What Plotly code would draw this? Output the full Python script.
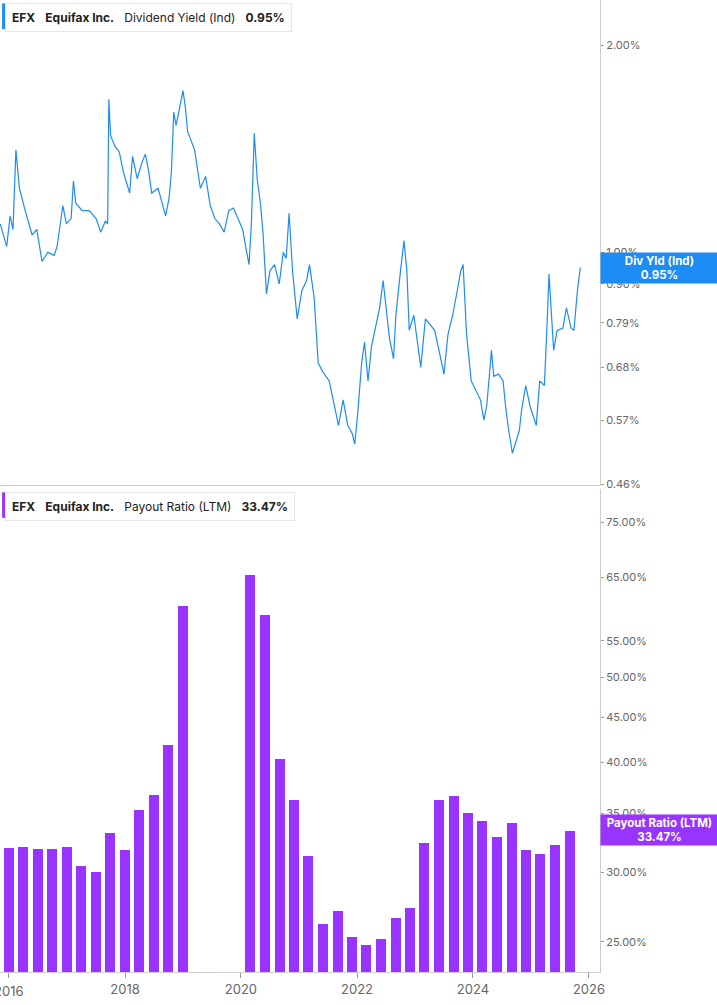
import numpy as np
import pandas as pd
import plotly.graph_objects as go
from plotly.subplots import make_subplots

# --- dividend yield (%), decimal years ---
yld_t = [2015.85, 2015.91, 2015.96, 2016.02, 2016.07, 2016.12, 2016.18, 2016.28, 2016.40, 2016.48,
         2016.57, 2016.67, 2016.78, 2016.83, 2016.87, 2016.93, 2016.99, 2017.07, 2017.11, 2017.15,
         2017.26, 2017.38, 2017.50, 2017.58, 2017.66, 2017.70, 2017.72, 2017.75, 2017.82, 2017.90,
         2017.97, 2018.08, 2018.13, 2018.21, 2018.29, 2018.35, 2018.41, 2018.46, 2018.57, 2018.62,
         2018.70, 2018.76, 2018.80, 2018.84, 2018.88, 2018.94, 2019.00, 2019.04, 2019.08, 2019.20,
         2019.30, 2019.39, 2019.47, 2019.55, 2019.63, 2019.71, 2019.79, 2019.87, 2019.95, 2020.03,
         2020.10, 2020.14, 2020.18, 2020.23, 2020.28, 2020.34, 2020.38, 2020.44, 2020.50, 2020.58,
         2020.66, 2020.73, 2020.78, 2020.83, 2020.89, 2020.97, 2021.05, 2021.13, 2021.18, 2021.26,
         2021.33, 2021.41, 2021.52, 2021.60, 2021.68, 2021.76, 2021.84, 2021.92, 2021.96, 2022.01,
         2022.08, 2022.13, 2022.19, 2022.25, 2022.31, 2022.39, 2022.45, 2022.51, 2022.56, 2022.63,
         2022.67, 2022.75, 2022.81, 2022.86, 2022.90, 2022.98, 2023.06, 2023.10, 2023.18, 2023.26,
         2023.34, 2023.43, 2023.50, 2023.57, 2023.65, 2023.73, 2023.79, 2023.83, 2023.89, 2023.97,
         2024.05, 2024.13, 2024.19, 2024.24, 2024.32, 2024.36, 2024.44, 2024.52, 2024.56, 2024.61,
         2024.68, 2024.74, 2024.80, 2024.84, 2024.91, 2024.99, 2025.09, 2025.15, 2025.23, 2025.27,
         2025.31, 2025.39, 2025.45, 2025.55, 2025.61, 2025.69, 2025.74, 2025.80, 2025.85]
yld_v = [1.10, 1.05, 1.02, 1.13, 1.08, 1.41, 1.24, 1.15, 1.06, 1.08,
         0.97, 1.00, 0.99, 1.02, 1.08, 1.17, 1.10, 1.12, 1.27, 1.18,
         1.15, 1.15, 1.12, 1.07, 1.11, 1.10, 1.67, 1.48, 1.43, 1.40,
         1.31, 1.22, 1.38, 1.28, 1.35, 1.39, 1.31, 1.22, 1.24, 1.20,
         1.13, 1.20, 1.31, 1.60, 1.53, 1.62, 1.72, 1.63, 1.50, 1.41,
         1.24, 1.29, 1.17, 1.12, 1.10, 1.07, 1.15, 1.16, 1.12, 1.08,
         1.00, 0.96, 1.10, 1.49, 1.28, 1.17, 1.07, 0.87, 0.94, 0.96,
         0.90, 1.00, 0.98, 1.14, 0.94, 0.80, 0.88, 0.91, 0.96, 0.86,
         0.69, 0.67, 0.65, 0.60, 0.56, 0.61, 0.56, 0.544, 0.526, 0.58,
         0.69, 0.74, 0.65, 0.73, 0.77, 0.83, 0.91, 0.82, 0.75, 0.70,
         0.81, 0.94, 1.04, 0.94, 0.77, 0.81, 0.72, 0.68, 0.80, 0.785,
         0.77, 0.71, 0.665, 0.76, 0.81, 0.88, 0.94, 0.96, 0.76, 0.65,
         0.63, 0.61, 0.57, 0.60, 0.72, 0.66, 0.665, 0.65, 0.60, 0.556,
         0.51, 0.53, 0.55, 0.59, 0.64, 0.595, 0.56, 0.65, 0.64, 0.76,
         0.93, 0.72, 0.77, 0.776, 0.83, 0.776, 0.77, 0.88, 0.95]

# --- payout ratio (LTM, %) quarterly ---
pay_dates = (list(pd.date_range("2015-12-31", "2018-12-31", freq="QE"))
             + list(pd.date_range("2020-03-01", "2025-09-01", freq="QS-MAR")))
pay_v = [32.0, 32.1, 31.9, 31.9, 32.1, 30.5, 30.0, 33.3, 31.8, 35.3, 36.7, 41.9, 60.3,
         65.3, 58.9, 40.4, 36.3, 31.3, 26.2, 27.1, 25.3, 24.8, 25.2, 26.6, 27.3, 32.4,
         36.3, 36.6, 35.0, 34.3, 32.9, 34.1, 31.8, 31.5, 32.2, 33.47]

yld_ticks = [0.46, 0.57, 0.68, 0.79, 0.90, 1.00, 2.00]
pay_ticks = [25, 30, 35, 40, 45, 50, 55, 65, 75]
year_ticks = list(range(2016, 2027, 2))


def dec_to_date(y):
    yr = int(y)
    start = pd.Timestamp(yr, 1, 1)
    return start + pd.Timedelta(days=(y - yr) * 365.25)


BLUE = "#1e8cf5"
PURPLE = "#9933ff"
GRID = "#cccccc"
FONT = "Inter"
TICKFONT = dict(family=FONT, size=13, color="#666")

fig = make_subplots(rows=2, cols=1, shared_xaxes=True, vertical_spacing=0.004,
                    row_heights=[0.501, 0.499])

fig.add_trace(go.Scatter(x=[dec_to_date(t) for t in yld_t], y=yld_v, mode="lines",
                         line=dict(color=BLUE, width=1.2), showlegend=False), row=1, col=1)
fig.add_trace(go.Bar(x=pay_dates, y=pay_v, marker=dict(color=PURPLE, line=dict(width=0)),
                     width=63 * 86400000, showlegend=False), row=2, col=1)

x_range = [dec_to_date(2015.845), dec_to_date(2026.19)]
common_x = dict(range=x_range, showgrid=False, zeroline=False, showline=True,
                linecolor=GRID, linewidth=1, automargin=False)
fig.update_xaxes(**common_x, showticklabels=False, ticks="", row=1, col=1)
fig.update_xaxes(**common_x, tickvals=[pd.Timestamp(y, 1, 1) for y in year_ticks],
                 ticktext=[str(y) for y in year_ticks], ticks="outside", ticklen=5,
                 tickcolor="#999", tickfont=TICKFONT, row=2, col=1)

# plotly drops the half-clipped first year label, so draw it as text
fig.add_annotation(xref="x2", yref="paper", x=pd.Timestamp(year_ticks[0], 1, 1), y=0,
                   yshift=-9, yanchor="top", text=str(year_ticks[0]), showarrow=False,
                   font=TICKFONT)

common_y = dict(type="log", side="right", showgrid=False, zeroline=False, showline=True,
                linecolor=GRID, ticks="outside", ticklen=3, tickcolor="#999", automargin=False,
                tickfont=dict(family=FONT, size=11, color="#666"))
fig.update_yaxes(**common_y, range=[np.log10(0.4585), np.log10(2.33)],
                 tickvals=yld_ticks, ticktext=[f"{v:.2f}%" for v in yld_ticks], row=1, col=1)
fig.update_yaxes(**common_y, range=[np.log10(23.1), np.log10(81.9)],
                 tickvals=pay_ticks, ticktext=[f"{v:.2f}%" for v in pay_ticks], row=2, col=1)

# header boxes
for yref, txt, col in [("y domain", "<b>EFX</b>   <b>Equifax Inc.</b>   Dividend Yield (Ind)   <b>0.95%</b>", BLUE),
                       ("y2 domain", "<b>EFX</b>   <b>Equifax Inc.</b>   Payout Ratio (LTM)   <b>33.47%</b>", PURPLE)]:
    fig.add_annotation(xref="paper", yref=yref, x=0.008, y=0.993, xanchor="left", yanchor="top",
                       text=txt, showarrow=False, align="left",
                       font=dict(family=FONT, size=12, color="#222"),
                       bgcolor="white", bordercolor="#e6e6e6", borderwidth=1, borderpad=6)
    fig.add_shape(type="line", xref="paper", yref=yref, x0=0.006, x1=0.006, y0=0.94, y1=0.993,
                  line=dict(color=col, width=3), layer="above")

# right value labels
fig.add_annotation(xref="paper", yref="y", x=1.0, y=np.log10(0.95), xanchor="left", yanchor="middle",
                   text="<b>Div Yld (Ind)</b><br><b>0.95%</b>", showarrow=False,
                   font=dict(family=FONT, size=11.5, color="white"), bgcolor=BLUE,
                   width=115, height=28, borderpad=1)
fig.add_annotation(xref="paper", yref="y2", x=1.0, y=np.log10(33.47), xanchor="left", yanchor="middle",
                   text="<b>Payout Ratio (LTM)</b><br><b>33.47%</b>", showarrow=False,
                   font=dict(family=FONT, size=11.5, color="white"), bgcolor=PURPLE,
                   width=115, height=28, borderpad=1)

fig.update_layout(width=717, height=1005, margin=dict(l=0, r=117, t=0, b=33),
                  plot_bgcolor="white", paper_bgcolor="white", bargap=0)

fig.write_html("out.html", config={"displayModeBar": False},
               post_script="document.body.style.margin='0';")
